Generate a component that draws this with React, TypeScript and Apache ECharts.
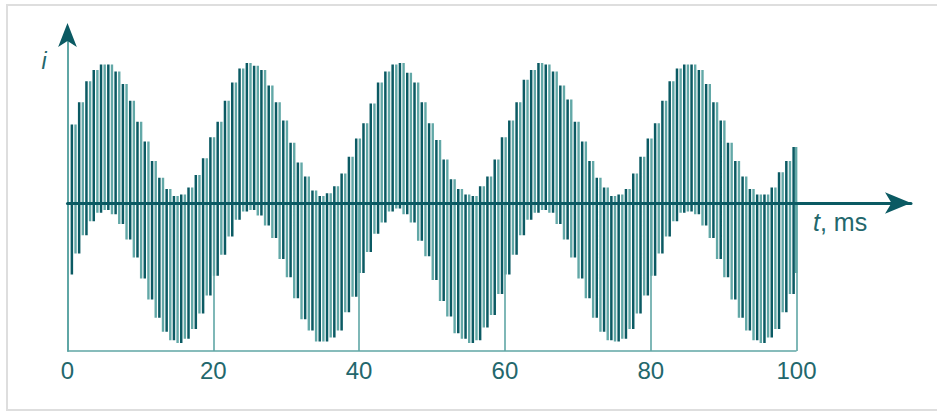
import React, { useEffect, useRef } from "react";
import * as echarts from "echarts";

// time axis (ms)
const tickLabels = [0, 20, 40, 60, 80, 100];
const tMax = 115.7;
const iMin = -105.7;
const iMax = 120.7;

// ripple peaks [t ms, i]
const peaks: [number, number][] = [
  [0.6, 56], [1.6, 72], [2.6, 87], [3.6, 95], [4.6, 99], [5.6, 99], [6.6, 94], [7.6, 85], [8.6, 73], [9.6, 58],
  [10.6, 44], [11.6, 30], [12.6, 18], [13.6, 10], [14.6, 5], [15.6, 6], [16.6, 11], [17.6, 20], [18.6, 32], [19.6, 47],
  [20.6, 58], [21.6, 73], [22.6, 86], [23.6, 96], [24.6, 100], [25.6, 98], [26.6, 95], [27.6, 84], [28.6, 72], [29.6, 59],
  [30.6, 43], [31.6, 29], [32.6, 19], [33.6, 9], [34.6, 5], [35.6, 7], [36.6, 12], [37.6, 21], [38.6, 33], [39.6, 46],
  [40.6, 57], [41.6, 71], [42.6, 86], [43.6, 94], [44.6, 99], [45.6, 100], [46.6, 93], [47.6, 86], [48.6, 72], [49.6, 57],
  [50.6, 45], [51.6, 31], [52.6, 17], [53.6, 10], [54.6, 6], [55.6, 5], [56.6, 12], [57.6, 19], [58.6, 31], [59.6, 47],
  [60.6, 59], [61.6, 72], [62.6, 88], [63.6, 95], [64.6, 100], [65.6, 99], [66.6, 94], [67.6, 84], [68.6, 74], [69.6, 58],
  [70.6, 44], [71.6, 30], [72.6, 18], [73.6, 11], [74.6, 5], [75.6, 6], [76.6, 10], [77.6, 21], [78.6, 33], [79.6, 46],
  [80.6, 57], [81.6, 73], [82.6, 87], [83.6, 96], [84.6, 99], [85.6, 99], [86.6, 95], [87.6, 85], [88.6, 72], [89.6, 59],
  [90.6, 43], [91.6, 30], [92.6, 19], [93.6, 10], [94.6, 6], [95.6, 6], [96.6, 11], [97.6, 22], [98.6, 30], [99.6, 40],
];

// ripple troughs [t ms, i]
const troughs: [number, number][] = [
  [0.1, -51], [1.1, -36], [2.1, -23], [3.1, -13], [4.1, -7], [5.1, -5], [6.1, -8], [7.1, -15], [8.1, -26], [9.1, -39],
  [10.1, -54], [11.1, -69], [12.1, -82], [13.1, -92], [14.1, -98], [15.1, -100], [16.1, -97], [17.1, -90], [18.1, -79], [19.1, -66],
  [20.1, -52], [21.1, -37], [22.1, -24], [23.1, -12], [24.1, -6], [25.1, -5], [26.1, -9], [27.1, -16], [28.1, -25], [29.1, -40],
  [30.1, -53], [31.1, -68], [32.1, -83], [33.1, -91], [34.1, -99], [35.1, -99], [36.1, -96], [37.1, -91], [38.1, -78], [39.1, -67],
  [40.1, -50], [41.1, -35], [42.1, -22], [43.1, -14], [44.1, -6], [45.1, -4], [46.1, -8], [47.1, -14], [48.1, -27], [49.1, -38],
  [50.1, -55], [51.1, -70], [52.1, -81], [53.1, -93], [54.1, -97], [55.1, -100], [56.1, -98], [57.1, -89], [58.1, -80], [59.1, -65],
  [60.1, -51], [61.1, -37], [62.1, -23], [63.1, -12], [64.1, -7], [65.1, -5], [66.1, -7], [67.1, -15], [68.1, -26], [69.1, -39],
  [70.1, -54], [71.1, -68], [72.1, -82], [73.1, -92], [74.1, -98], [75.1, -99], [76.1, -97], [77.1, -90], [78.1, -79], [79.1, -66],
  [80.1, -52], [81.1, -36], [82.1, -24], [83.1, -13], [84.1, -7], [85.1, -6], [86.1, -8], [87.1, -16], [88.1, -25], [89.1, -40],
  [90.1, -53], [91.1, -69], [92.1, -82], [93.1, -91], [94.1, -98], [95.1, -100], [96.1, -96], [97.1, -90], [98.1, -78], [99.1, -65],
];
const endPoint: [number, number] = [99.95, -50];

const DARK = "#0b5a63";
const LIGHT = "#62a8a7";
const AXIS_LIGHT = "#5fa6a5";
const TEXT = "#23676c";
const FONT = "'Liberation Sans', Arial, sans-serif";

export default function App() {
  const ref = useRef<HTMLDivElement>(null);
  useEffect(() => {
    document.body.style.margin = "0";
    if (!ref.current) return;
    const chart = echarts.init(ref.current, undefined, { renderer: "svg" });

    // rising edges (dark) drawn at each peak's time, falling edges (light) at the next trough's time
    const upData: any[] = [];
    const downData: any[] = [];
    for (let k = 0; k < peaks.length; k++) {
      const [tp, vp] = peaks[k];
      upData.push([tp, troughs[k][1]], [tp, vp], [tp, "-"]);
      const next = k + 1 < troughs.length ? troughs[k + 1] : endPoint;
      downData.push([next[0], vp], [next[0], next[1]], [next[0], "-"]);
    }

    const gridLines = tickLabels
      .filter((t) => t > 0)
      .map((t) => [{ coord: [t, 0] }, { coord: [t, iMin] }]);

    chart.setOption({
      animation: false,
      backgroundColor: "#ffffff",
      grid: { left: 67.5, right: 26, top: 34, bottom: 62, containLabel: false, outerBoundsMode: "none" },
      xAxis: [
        {
          type: "value",
          min: 0,
          max: tMax,
          interval: 20,
          position: "bottom",
          axisLine: { show: false, onZero: false },
          axisTick: { show: false },
          splitLine: { show: false },
          axisLabel: {
            color: TEXT,
            fontSize: 24,
            fontFamily: FONT,
            margin: 7,
            showMaxLabel: false,
            formatter: (v: number) => (tickLabels.includes(v) ? String(v) : ""),
          },
        },
        {
          type: "value",
          min: 0,
          max: tMax,
          position: "bottom",
          z: 10,
          axisLine: {
            show: true,
            onZero: true,
            symbol: ["none", "arrow"],
            symbolSize: [16, 26],
            lineStyle: { color: DARK, width: 3 },
          },
          axisTick: { show: false },
          axisLabel: { show: false },
          splitLine: { show: false },
        },
      ],
      yAxis: {
        type: "value",
        min: iMin,
        max: iMax,
        axisLine: { show: true, onZero: false, lineStyle: { color: AXIS_LIGHT, width: 2 } },
        axisTick: { show: false },
        axisLabel: { show: false },
        splitLine: { show: false },
      },
      series: [
        {
          type: "line",
          data: [],
          z: 1,
          silent: true,
          clip: false,
          markLine: {
            silent: true,
            symbol: "none",
            label: { show: false },
            lineStyle: { color: AXIS_LIGHT, width: 1.6, type: "solid" },
            data: [...gridLines, [{ coord: [0, iMin] }, { coord: [100, iMin] }]],
          },
        },
        {
          type: "line",
          data: downData,
          z: 2,
          silent: true,
          showSymbol: false,
          symbol: "none",
          connectNulls: false,
          lineStyle: { color: LIGHT, width: 2.4, cap: "butt" },
        },
        {
          type: "line",
          data: upData,
          z: 3,
          silent: true,
          showSymbol: false,
          symbol: "none",
          connectNulls: false,
          lineStyle: { color: DARK, width: 2.5, cap: "butt" },
        },
        {
          type: "scatter",
          data: [[0, iMax]],
          z: 6,
          silent: true,
          clip: false,
          symbol: "arrow",
          symbolSize: [14, 24],
          symbolOffset: [0, -11],
          itemStyle: { color: DARK, opacity: 1 },
        },
      ],
      graphic: [
        {
          type: "rect",
          silent: true,
          shape: { x: 7, y: 5, width: 960, height: 405 },
          style: { fill: "none", stroke: "#dedede", lineWidth: 2 },
        },
        {
          type: "text",
          silent: true,
          x: 44,
          y: 61,
          style: {
            text: "i",
            fill: TEXT,
            font: `italic 23px ${FONT}`,
            align: "center",
            verticalAlign: "middle",
          },
        },
        {
          type: "text",
          silent: true,
          x: 813,
          y: 222,
          style: {
            text: "{it|t}, ms",
            fill: TEXT,
            font: `25px ${FONT}`,
            verticalAlign: "middle",
            rich: { it: { fontStyle: "italic", fontSize: 25, fontFamily: FONT, fill: TEXT } },
          },
        },
      ],
    });
    return () => chart.dispose();
  }, []);
  return <div ref={ref} style={{ width: 937, height: 413 }} />;
}
